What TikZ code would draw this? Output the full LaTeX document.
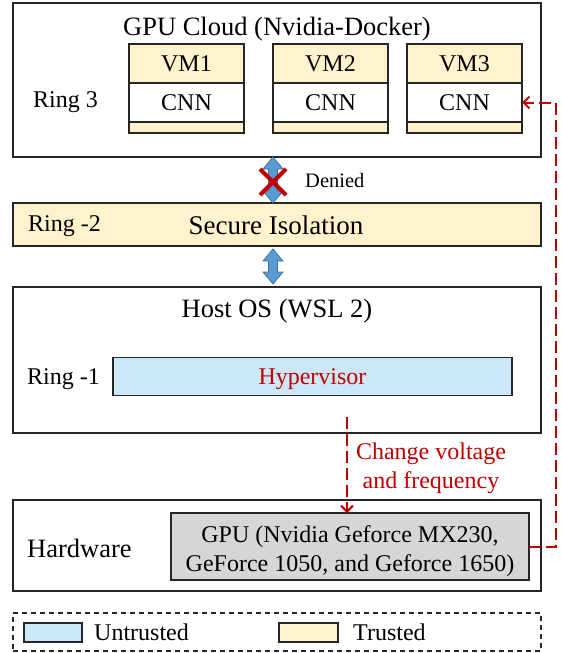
\documentclass[tikz,border=0pt]{standalone}
\usepackage{fontspec}
\setmainfont{Liberation Serif}
\usetikzlibrary{arrows.meta,calc}
\definecolor{yel}{HTML}{FFF2CC}
\definecolor{lblue}{HTML}{CCE8F8}
\definecolor{gpugray}{HTML}{D6D6D6}
\definecolor{darkred}{HTML}{C00000}
\definecolor{arrfill}{HTML}{5B9BD5}
\definecolor{arrline}{HTML}{41719C}
\newcommand{\fbig}{\fontsize{26.5}{30}\selectfont}
\newcommand{\fmid}{\fontsize{24}{29}\selectfont}
\newcommand{\fsmall}{\fontsize{20.5}{24}\selectfont}
\tikzset{
  box/.style={draw=black!85, line width=1.3pt, inner sep=0pt, outer sep=0pt},
  tb/.style={inner sep=0pt, font=\fbig, text height=17.5pt, text depth=0pt},
  tm/.style={inner sep=0pt, font=\fmid, text height=16pt, text depth=0pt},
  ts/.style={inner sep=0pt, font=\fsmall, text height=13.5pt, text depth=0pt},
  reddash/.style={draw=darkred, line width=2pt, dash pattern=on 12pt off 5pt},
  redtip/.style={-{Straight Barb[length=6pt,width=12pt,line width=2pt]}},
  blueArr/.style={fill=arrfill, draw=arrline, line width=0.8pt}
}
\begin{document}
\begin{tikzpicture}[x=1pt,y=-1pt]
\useasboundingbox (0,0) rectangle (564,653);
% GPU cloud
\node[box, minimum width=528pt, minimum height=154pt] (cloud) at (277,80) {};
\node[tb] (cloudT) at (277,26.3) {GPU Cloud (Nvidia-Docker)};
\node[tm, anchor=west] (ring3) at (33,99.5) {Ring 3};
\foreach \i/\cx in {1/186.5, 2/330.5, 3/464.5}{
  \node[box, tm, fill=yel, minimum width=115pt, minimum height=39pt] (vm\i) at (\cx,63.5) {VM\i};
  \node[box, tm, fill=white, minimum width=115pt, minimum height=39pt] (cnn\i) at (\cx,102.5) {CNN};
  \node[box, fill=yel, minimum width=115pt, minimum height=11pt] (bot\i) at (\cx,127.5) {};
}
% secure isolation
\node[box, fill=yel, minimum width=528pt, minimum height=43pt] (sec) at (277,224.5) {};
\node[tm, anchor=west] (ring2) at (28,223) {Ring -2};
\node[tb, font=\fontsize{27}{30}\selectfont, text height=17.8pt] (secT) at (276,226) {Secure Isolation};
% host OS
\node[box, minimum width=528pt, minimum height=146pt] (host) at (277,360) {};
\node[tb] (hostT) at (277,309) {Host OS (WSL 2)};
\node[box, tm, fill=lblue, minimum width=399pt, minimum height=38pt, text=darkred] (hyp) at (312.5,376.5) {Hypervisor};
\node[tm, anchor=west] (ring1) at (27,376.5) {Ring -1};
% hardware
\node[box, minimum width=528pt, minimum height=91pt] (hw) at (277,545.5) {};
\node[tb, anchor=west] (hwT) at (27,548.5) {Hardware};
\node[box, fill=gpugray, minimum width=358pt, minimum height=67pt] (gpu) at (350,546.5) {};
\node[inner sep=0pt, font=\fmid, align=center] (gpuT) at (350,551.5) {GPU (Nvidia Geforce MX230,\\GeForce 1050, and Geforce 1650)};
% blue double arrows
\foreach \a/\b in {157/203, 249/284}{
  \path[blueArr] (273,\a) -- (283,\a+12) -- (277.5,\a+12) -- (277.5,\b-12) -- (283,\b-12) -- (273,\b) -- (263,\b-12) -- (268.5,\b-12) -- (268.5,\a+12) -- (263,\a+12) -- cycle;
}
% red X
\coordinate (xc) at (273,182);
\draw[darkred, line width=4pt] ($(xc)+(-13,-13)$) -- ($(xc)+(13,13)$);
\draw[darkred, line width=4pt] ($(xc)+(-13,13)$) -- ($(xc)+(13,-13)$);
\node[ts, anchor=west] (denied) at (305,181) {Denied};
% red dashed arrows
\coordinate (hvs) at (347,417);
\draw[reddash, redtip] (hvs) -- (hvs |- gpu.north);
\node[inner sep=0pt, font=\fmid, text=darkred, align=center] (chg) at (431,468) {Change voltage\\and frequency};
\draw[reddash, redtip] (gpu.east) -- ++(27,0) |- (cnn3.east);
% legend
\node[draw=black!85, line width=1.2pt, dash pattern=on 5pt off 4pt, minimum width=528pt, minimum height=38pt, inner sep=0pt] (leg) at (277,632) {};
\node[box, line width=1.1pt, fill=lblue, minimum width=58pt, minimum height=19pt] (swU) at (53,632.5) {};
\node[tm, anchor=west] (tU) at (94,632.5) {Untrusted};
\node[box, line width=1.1pt, fill=yel, minimum width=59pt, minimum height=19pt] (swT) at (308.5,632.5) {};
\node[tm, anchor=west] (tT) at (353,632.5) {Trusted};
\end{tikzpicture}
\end{document}
